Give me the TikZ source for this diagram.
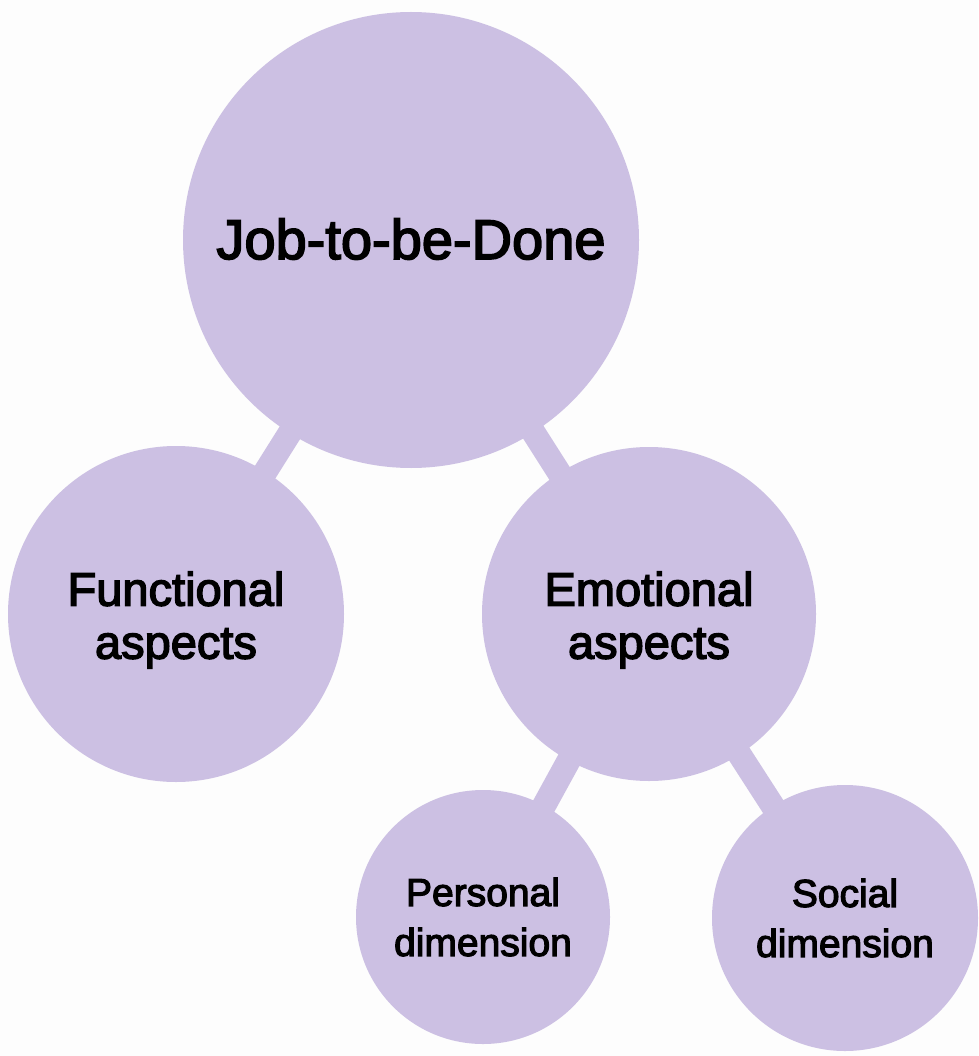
\documentclass[tikz,border=0pt]{standalone}
\usepackage{fontspec}
\setmainfont{Liberation Sans}
\newfontfamily\medfont{Liberation Sans}[RawFeature={embolden=3}]
\pgfdeclarelayer{bgrect}
\pgfdeclarelayer{links}
\pgfsetlayers{bgrect,links,main}
\definecolor{lav}{HTML}{CCC0E3}
\definecolor{paper}{HTML}{FDFDFD}
\tikzset{
  bubble/.style={circle, fill=lav, draw=none, inner sep=0pt},
  link/.style={draw=lav, line width=24pt},
  lbl/.style={align=center, text=black, inner sep=0pt},
}
\begin{document}
\begin{tikzpicture}[x=1pt,y=-1pt]
\begin{pgfonlayer}{bgrect}
\fill[paper] (0,0) rectangle (978,1056);
\end{pgfonlayer}
\useasboundingbox (0,0) rectangle (978,1056);
\node[bubble, minimum size=456pt] (job) at (411,240) {};
\node[bubble, minimum size=336pt] (fun) at (176,614) {};
\node[bubble, minimum size=334pt] (emo) at (649,614) {};
\node[bubble, minimum size=254pt] (per) at (483,917) {};
\node[bubble, minimum size=266pt] (soc) at (845,918) {};
\node[lbl, font=\medfont\fontsize{56}{64}\selectfont] (jobT) at ([yshift=1pt]job.center) {Job-to-be-Done};
\node[lbl, font=\medfont\fontsize{47}{53}\selectfont] (funT) at ([yshift=-6pt]fun.center) {Functional\\aspects};
\node[lbl, font=\medfont\fontsize{47}{53}\selectfont] (emoT) at ([yshift=-6pt]emo.center) {Emotional\\aspects};
\node[lbl, font=\medfont\fontsize{39}{50}\selectfont] (perT) at (per.center) {Personal\\dimension};
\node[lbl, font=\medfont\fontsize{39}{50}\selectfont] (socT) at (soc.center) {Social\\dimension};
\begin{pgfonlayer}{links}
\draw[link] (job.center) -- (fun.center);
\draw[link] (job.center) -- (emo.center);
\draw[link] (emo.center) -- (per.center);
\draw[link] (emo.center) -- (soc.center);
\end{pgfonlayer}
\end{tikzpicture}
\end{document}
